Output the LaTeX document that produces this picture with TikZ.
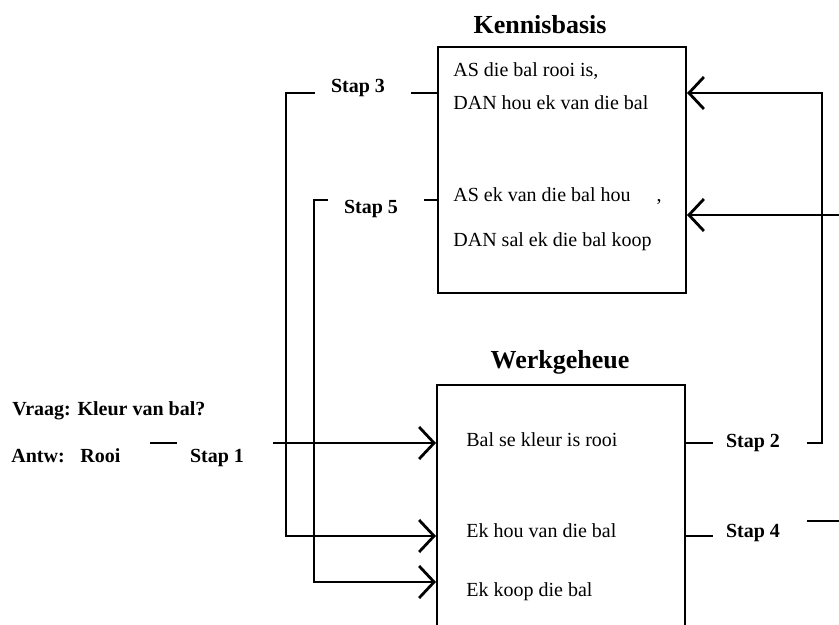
\documentclass[tikz,border=0pt]{standalone}
\usepackage{fontspec}
\setmainfont{Liberation Serif}
\usetikzlibrary{arrows.meta}
\begin{document}
\begin{tikzpicture}[
  x=0.5pt, y=-0.5pt,
  box/.style={draw, line width=1pt, inner sep=0pt},
  title/.style={font=\fontsize{13}{15}\selectfont\bfseries},
  rule/.style={anchor=base west, inner sep=0pt, font=\fontsize{10}{12}\selectfont},
  lbl/.style={anchor=base, inner sep=0pt, font=\fontsize{10}{12}\selectfont\bfseries},
  wire/.style={line width=1pt},
  arrow/.style={wire, -{Straight Barb[length=7.5pt, width=16pt, line width=1.4pt]}}
]
\useasboundingbox (0,0) rectangle (839,625);
\clip (0,0) rectangle (839,625);

% Kennisbasis
\node[title] (kbtitle) at (540,25) {Kennisbasis};
\node[box, minimum width=124pt, minimum height=123pt] (kb) at (562,170) {};
\node[rule] (as1) at (453,77)  {AS die bal rooi is,};
\node[rule] (dan1) at (453,110) {DAN hou ek van die bal};
\node[rule] (as2) at (453,202) {AS ek van die bal hou\hspace{13pt},};
\node[rule] (dan2) at (453,247) {DAN sal ek die bal koop};

% Werkgeheue
\node[title] (wgtitle) at (560,362) {Werkgeheue};
\node[box, minimum width=124pt, minimum height=130pt] (wg) at (561,515) {};
\node[rule] (feit1) at (466,446) {Bal se kleur is rooi};
\node[rule] (feit2) at (466,537) {Ek hou van die bal};
\node[rule] (feit3) at (466,596) {Ek koop die bal};

% vraag en antwoord
\node[lbl, anchor=base west] (vraag) at (12,415) {Vraag: Kleur van bal?};
\node[lbl, anchor=base west] (antw) at (11,462) {Antw:};
\node[lbl, anchor=base west] (rooi) at (80,462) {Rooi};

% stappe
\node[lbl] (stap1) at (217,462) {Stap 1};
\node[lbl] (stap2) at (753,447) {Stap 2};
\node[lbl] (stap3) at (358,93)  {Stap 3};
\node[lbl] (stap4) at (753,537) {Stap 4};
\node[lbl] (stap5) at (371,214) {Stap 5};

\coordinate (d1) at (150,443);
\coordinate (d2) at (177,443);
\draw[wire] (d1) -- (d2);

% stap 1
\draw[arrow] (273,443) -- (wg.west |- 0,443);
% stap 2
\draw[wire] (wg.east |- 0,443) -- (713,443);
\draw[arrow] (807,443) -| (822,93) -- (kb.east |- 0,93);
% stap 3
\draw[wire] (kb.west |- 0,93) -- (411,93);
\draw[arrow] (315,93) -| (286,536) -- (wg.west |- 0,536);
% stap 4
\draw[wire] (wg.east |- 0,536) -- (713,536);
\draw[arrow] (807,521) -- (850,521) |- (kb.east |- 0,215);
% stap 5
\draw[wire] (kb.west |- 0,200) -- (424,200);
\draw[arrow] (328,200) -| (314,582) -- (wg.west |- 0,582);
\end{tikzpicture}
\end{document}
